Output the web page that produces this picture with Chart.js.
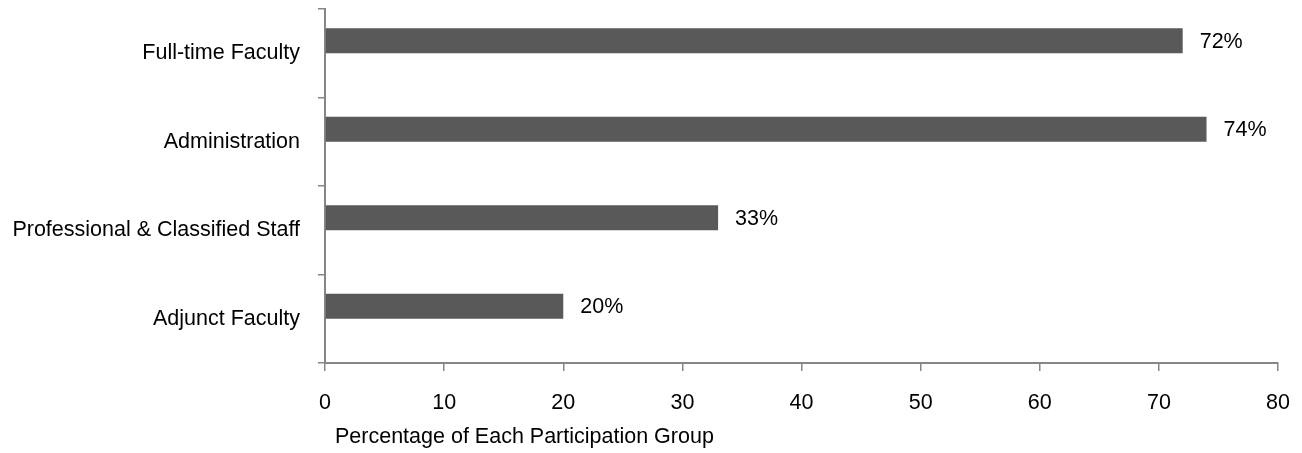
<!DOCTYPE html>
<html>
<head>
<meta charset="utf-8">
<script src="https://cdn.jsdelivr.net/npm/chart.js@4/dist/chart.umd.min.js"></script>
<style>
  html, body { margin: 0; padding: 0; background: #ffffff; }
  #wrap { width: 1302px; height: 453px; }
</style>
</head>
<body>
<div id="wrap"><canvas id="c" width="1302" height="453"></canvas></div>
<script>
// Participation rate by group (percent)
const groups = ['Full-time Faculty', 'Administration', 'Professional & Classified Staff', 'Adjunct Faculty'];
const participation = [72, 74, 33, 20];
// Empty companion series (keeps the clustered layout of the bars)
const companion = [null, null, null, null];
const xTicks = [0, 10, 20, 30, 40, 50, 60, 70, 80];
const axisTitle = 'Percentage of Each Participation Group';

const FONT_FAMILY = "'Liberation Sans Narrow', 'Arial Narrow', 'Liberation Sans', Arial, sans-serif";
const FONT_SIZE = 21.5;
const AXIS_GREY = '#868686';
const BAR_GREY = '#595959';

// Value labels at the end of each bar, plus the left-set axis title
const annotate = {
  id: 'annotate',
  afterDatasetsDraw(chart) {
    const ctx = chart.ctx;
    const meta = chart.getDatasetMeta(0);
    ctx.save();
    ctx.font = FONT_SIZE + 'px ' + FONT_FAMILY;
    ctx.fillStyle = '#000000';
    ctx.textAlign = 'left';
    ctx.textBaseline = 'middle';
    meta.data.forEach((bar, i) => {
      ctx.fillText(participation[i] + '%', bar.x + 17, bar.y + 1);
    });
    const xs = chart.scales.x;
    ctx.textBaseline = 'alphabetic';
    ctx.fillText(axisTitle, xs.left + 10, xs.bottom - 10);
    ctx.restore();
  }
};

new Chart(document.getElementById('c'), {
  type: 'bar',
  data: {
    labels: groups,
    datasets: [
      { label: 'Participation', data: participation, backgroundColor: BAR_GREY, borderWidth: 0 },
      { label: '', data: companion, backgroundColor: BAR_GREY, borderWidth: 0 }
    ]
  },
  options: {
    indexAxis: 'y',
    responsive: false,
    animation: false,
    categoryPercentage: 0.565,
    barPercentage: 1.0,
    layout: { padding: { top: 9, right: 24, left: 0, bottom: 0 } },
    plugins: {
      legend: { display: false },
      tooltip: { enabled: false }
    },
    scales: {
      x: {
        type: 'linear',
        min: 0,
        max: 80,
        afterBuildTicks: s => { s.ticks = xTicks.map(v => ({ value: v })); },
        afterFit: s => { s.height = 90; s.paddingLeft = 0; s.paddingRight = 0; },
        grid: { drawOnChartArea: false, tickLength: 8, color: AXIS_GREY, lineWidth: 1.5 },
        border: { color: AXIS_GREY, width: 2 },
        ticks: { color: '#000000', padding: 19, maxRotation: 0, font: { family: FONT_FAMILY, size: FONT_SIZE } }
      },
      y: {
        type: 'category',
        offset: true,
        afterFit: s => { s.width = 325; s.paddingTop = 0; s.paddingBottom = 0; },
        grid: { offset: true, drawOnChartArea: false, tickLength: 7, color: AXIS_GREY, lineWidth: 1.5 },
        border: { color: AXIS_GREY, width: 2 },
        ticks: { color: '#000000', padding: 18, font: { family: FONT_FAMILY, size: FONT_SIZE } }
      }
    }
  },
  plugins: [annotate]
});
</script>
</body>
</html>
